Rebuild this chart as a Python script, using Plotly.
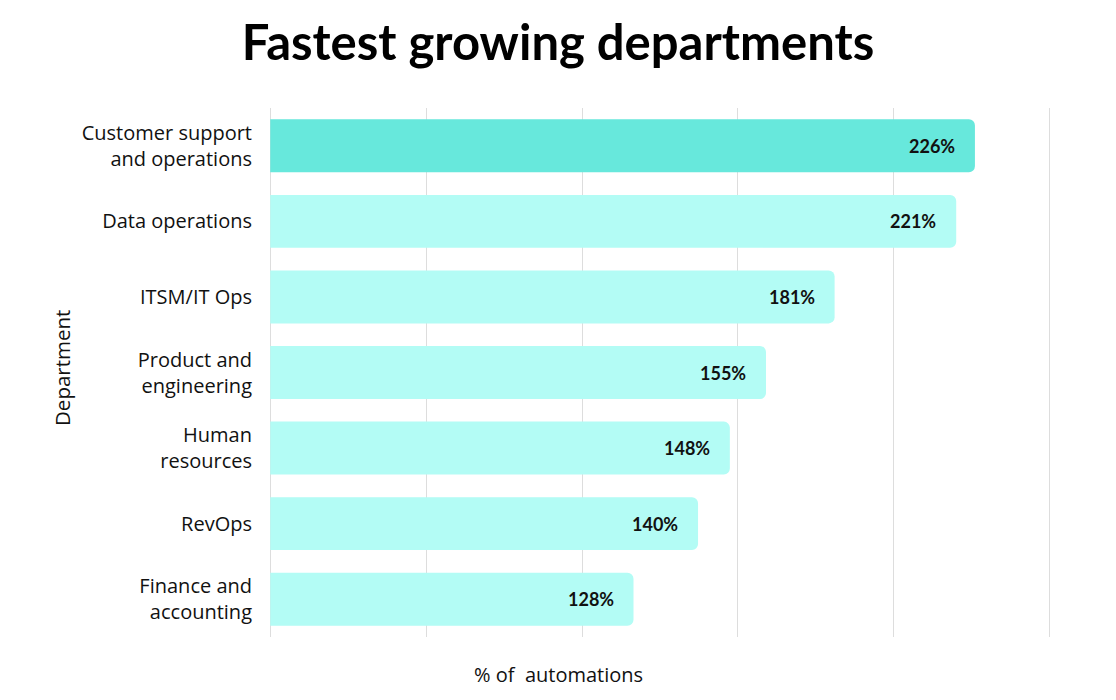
import plotly.graph_objects as go

departments = [
    "Customer support<br>and operations",
    "Data operations",
    "ITSM/IT Ops",
    "Product and<br>engineering",
    "Human<br>resources",
    "RevOps",
    "Finance and<br>accounting",
]
growth_labels = ["226%", "221%", "181%", "155%", "148%", "140%", "128%"]
# bar lengths as drawn in the reference (in % units on the x axis)
bar_lengths = [226, 220, 181, 159, 147.4, 137.2, 116.5]

bar_colors = ["#67E8DC"] + ["#B3FCF5"] * 6
FONT = "Open Sans"
TXT = "#111111"

W, H = 1100, 684
L, R, T, B = 261, 57, 100, 55
PW, PH = W - L - R, H - T - B

fig = go.Figure(
    go.Bar(
        x=bar_lengths,
        y=departments,
        orientation="h",
        marker=dict(color=bar_colors, line=dict(width=0), cornerradius=6),
        width=0.7,
        hoverinfo="skip",
    )
)

for dep, val, lab in zip(departments, bar_lengths, growth_labels):
    fig.add_annotation(
        x=val, y=dep, xref="x", yref="y", text="<b>" + lab + "</b>",
        showarrow=False, xanchor="right", xshift=-18,
        font=dict(family="Lato", size=18, color=TXT),
    )

# x-axis title (centered on the page, as in the reference)
fig.add_annotation(
    x=(550 - L) / PW, y=-37 / PH, xref="paper", yref="paper",
    text="%\u00a0of\u00a0\u00a0automations", showarrow=False,
    xanchor="center", yanchor="middle",
    font=dict(family=FONT, size=20, color=TXT),
)
# y-axis title
fig.add_annotation(
    x=(54 - L) / PW, y=1 - (360 - T) / PH, xref="paper", yref="paper",
    text="Department", textangle=-90, showarrow=False,
    xanchor="center", yanchor="middle",
    font=dict(family=FONT, size=20.5, color=TXT),
)

fig.update_layout(
    width=W,
    height=H,
    paper_bgcolor="white",
    plot_bgcolor="white",
    margin=dict(l=L, r=R, t=T, b=B),
    showlegend=False,
    title=dict(
        text="<b>Fastest growing departments</b>",
        x=0.5, xanchor="center", xref="container",
        y=1 - 35 / H, yanchor="middle", yref="container",
        font=dict(family="Lato", size=49, color="#000000"),
    ),
    xaxis=dict(
        range=[-0.4, 250.4], tickvals=[0, 50, 100, 150, 200, 250], showticklabels=False,
        showgrid=True, gridcolor="#DDDDDD", gridwidth=1.3,
        zeroline=False, showline=False, ticks="", fixedrange=True,
    ),
    yaxis=dict(
        autorange="reversed", showgrid=False, showline=False, zeroline=False,
        ticks="", ticklabelstandoff=16,
        tickfont=dict(family=FONT, size=20, color=TXT),
    ),
)

fig.write_html("out.html")
